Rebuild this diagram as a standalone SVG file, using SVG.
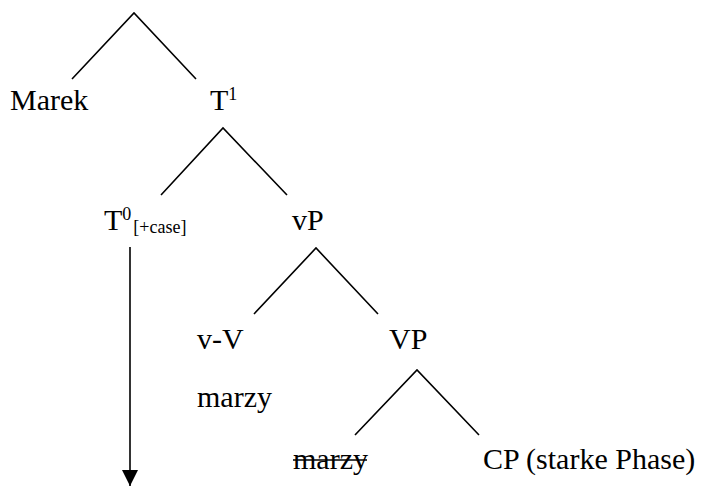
<svg xmlns="http://www.w3.org/2000/svg" width="703" height="490" viewBox="0 0 703 490">
<defs>
<style>
text{font-family:"Liberation Serif","Times New Roman",serif;fill:#000}
.n{font-size:30px}
.sup{font-size:18px}
.sub{font-size:18px}
.e{stroke:#000;stroke-width:1.6;fill:none}
</style>
<marker id="ah" viewBox="0 0 10 10" refX="10" refY="5" markerWidth="16" markerHeight="16" markerUnits="userSpaceOnUse" orient="auto">
<path d="M0,0 L10,5 L0,10 Z" fill="#000"/>
</marker>
</defs>
<rect width="703" height="490" fill="#fff"/>
<g id="connectors">
<path class="e" d="M72,79 L134,13 L196,79"/>
<path class="e" d="M161,195 L223,128 L287,195"/>
<path class="e" d="M254,314 L316,248 L378,314"/>
<path class="e" d="M355,435 L417,370 L479,435"/>
<line class="e" x1="130" y1="247" x2="130" y2="486" stroke-width="2" marker-end="url(#ah)"/>
</g>
<g id="marek"><text class="n" x="10" y="110">Marek</text></g>
<g id="t1"><text class="n" x="210" y="110">T<tspan class="sup" dy="-10">1</tspan></text></g>
<g id="t0"><text class="n" x="104" y="230">T<tspan class="sup" dy="-10" font-size="21">0</tspan><tspan class="sub" dx="2" dy="13">[+case]</tspan></text></g>
<g id="vp"><text class="n" x="292" y="230">vP</text></g>
<g id="vv"><text class="n" x="197" y="349">v-V</text></g>
<g id="vP2"><text class="n" x="389" y="349">VP</text></g>
<g id="marzy"><text class="n" x="197" y="407">marzy</text></g>
<g id="marzy-trace"><text class="n" x="293" y="469">marzy</text><line x1="293" y1="460" x2="367" y2="460" stroke="#000" stroke-width="1.6"/></g>
<g id="cp"><text class="n" x="483" y="469">CP (starke Phase)</text></g>
</svg>
